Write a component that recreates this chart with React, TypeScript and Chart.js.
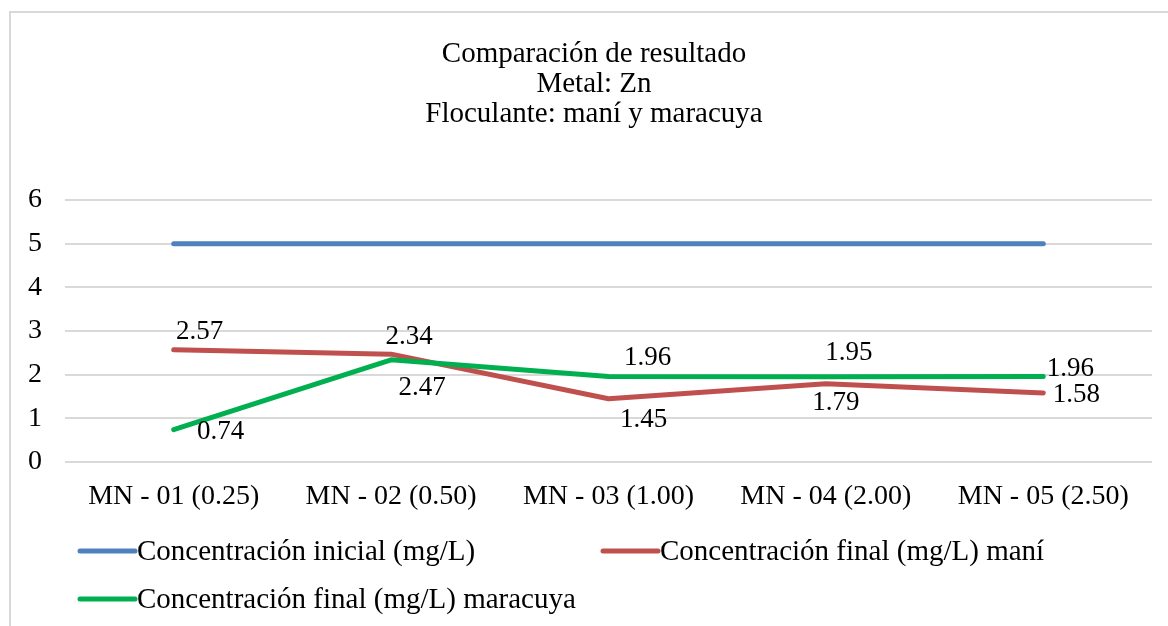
import React, { useEffect, useRef } from "react";
import { Chart, registerables } from "chart.js";

Chart.register(...registerables);

const categories = ["MN - 01 (0.25)", "MN - 02 (0.50)", "MN - 03 (1.00)", "MN - 04 (2.00)", "MN - 05 (2.50)"];
const inicial = [5, 5, 5, 5, 5];
const finalMani = [2.57, 2.47, 1.45, 1.79, 1.58];
const finalMaracuya = [0.74, 2.34, 1.96, 1.95, 1.96];
const yMin = 0;
const yMax = 6;
const yStep = 1;
const titleLines = ["Comparación de resultado", "Metal: Zn", "Floculante: maní y maracuya"];
const seriesNames = [
  "Concentración inicial (mg/L)",
  "Concentración final (mg/L) maní",
  "Concentración final (mg/L) maracuya",
];

const COLORS = ["#4F81BD", "#C0504D", "#00B050"];
const FONT = '"Liberation Serif", "Times New Roman", serif';

// label placement relative to each point (style only)
const labelOffsets: (number[][] | null)[] = [
  null,
  [[26, -18], [31, 34], [35, 21], [10, 19], [33, 2]],
  [[47, 2], [18, -23], [39, -19], [23, -24], [27, -8]],
];

const decorPlugin = {
  id: "decor",
  beforeDraw(chart: any) {
    const ctx = chart.ctx;
    ctx.save();
    ctx.fillStyle = "#ffffff";
    ctx.fillRect(0, 0, chart.width, chart.height);
    ctx.strokeStyle = "#d9d9d9";
    ctx.lineWidth = 2;
    ctx.strokeRect(10, 12, chart.width + 20, chart.height + 20);
    ctx.restore();
  },
  afterDraw(chart: any) {
    const ctx = chart.ctx;
    ctx.save();
    // title
    ctx.fillStyle = "#000";
    ctx.font = `29px ${FONT}`;
    ctx.textAlign = "center";
    ctx.textBaseline = "alphabetic";
    titleLines.forEach((t, i) => ctx.fillText(t, 594, 62 + i * 30));
    // legend
    const items = [
      { x: 80, y: 551 },
      { x: 603, y: 551 },
      { x: 80, y: 599 },
    ];
    ctx.font = `29px ${FONT}`;
    ctx.textAlign = "left";
    ctx.textBaseline = "middle";
    items.forEach((p, i) => {
      ctx.strokeStyle = COLORS[i];
      ctx.lineWidth = 5;
      ctx.lineCap = "round";
      ctx.beginPath();
      ctx.moveTo(p.x, p.y);
      ctx.lineTo(p.x + 55, p.y);
      ctx.stroke();
      ctx.fillStyle = "#000";
      ctx.fillText(seriesNames[i], p.x + 57, p.y + 1);
    });
    ctx.restore();
  },
  afterDatasetsDraw(chart: any) {
    const ctx = chart.ctx;
    ctx.save();
    ctx.font = `27px ${FONT}`;
    ctx.fillStyle = "#000";
    ctx.textAlign = "center";
    ctx.textBaseline = "middle";
    chart.data.datasets.forEach((ds: any, i: number) => {
      const offs = labelOffsets[i];
      if (!offs) return;
      const meta = chart.getDatasetMeta(i);
      meta.data.forEach((pt: any, j: number) => {
        const v = ds.data[j];
        ctx.fillText(v.toFixed(2), pt.x + offs[j][0], pt.y + offs[j][1]);
      });
    });
    ctx.restore();
  },
};

export default function App() {
  const ref = useRef<HTMLCanvasElement>(null);
  useEffect(() => {
    const chart = new Chart(ref.current!, {
      type: "line",
      data: {
        labels: categories,
        datasets: [
          { label: seriesNames[0], data: inicial, borderColor: COLORS[0], order: 2 },
          { label: seriesNames[1], data: finalMani, borderColor: COLORS[1], order: 1 },
          { label: seriesNames[2], data: finalMaracuya, borderColor: COLORS[2], order: 0 },
        ].map((d) => ({
          ...d,
          borderWidth: 5,
          borderCapStyle: "round" as const,
          borderJoinStyle: "round" as const,
          pointRadius: 0,
          pointHoverRadius: 0,
          tension: 0,
          fill: false,
        })),
      },
      options: {
        animation: false,
        responsive: false,
        devicePixelRatio: 1,
        layout: { padding: { top: 200, right: 16, bottom: 0, left: 0 } },
        plugins: {
          legend: { display: false },
          title: { display: false },
          tooltip: { enabled: false },
        },
        scales: {
          x: {
            offset: true,
            grid: { display: false, drawTicks: false },
            border: { display: false },
            ticks: {
              color: "#000",
              padding: 18,
              maxRotation: 0,
              autoSkip: false,
              font: { family: FONT, size: 28 },
            },
            afterFit: (s: any) => {
              s.height = 164;
            },
          },
          y: {
            min: yMin,
            max: yMax,
            grid: { color: "#d9d9d9", lineWidth: 2, drawTicks: false },
            border: { display: false },
            ticks: {
              stepSize: yStep,
              color: "#000",
              padding: 23,
              font: { family: FONT, size: 28 },
            },
            afterFit: (s: any) => {
              s.width = 65;
            },
          },
        },
      },
      plugins: [decorPlugin],
    } as any);
    return () => chart.destroy();
  }, []);
  return (
    <div style={{ position: "absolute", left: 0, top: 0, width: 1168, height: 626 }}>
      <canvas ref={ref} width={1168} height={626} style={{ display: "block", width: 1168, height: 626 }} />
    </div>
  );
}
